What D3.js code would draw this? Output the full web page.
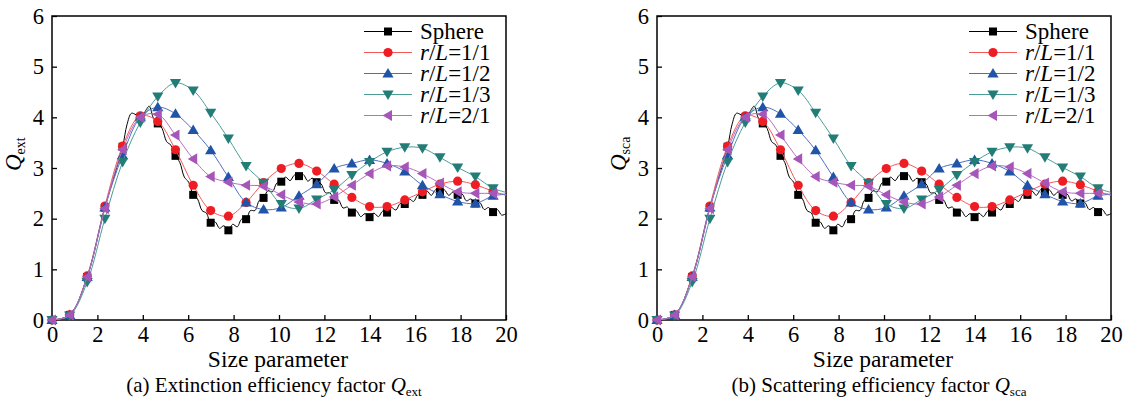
<!DOCTYPE html>
<html>
<head>
  <script src="https://d3js.org/d3.v7.min.js"></script>
  <style>
    body { margin: 0; background: #fff; }
    svg text { font-family: "Liberation Serif", "DejaVu Serif", serif; }
  </style>
</head>
<body>
<div id="chart"></div>
<script>
// size parameter where the symbols sit (last value is the line end at 20)
const sizeParam = [0, 0.78, 1.55, 2.33, 3.11, 3.89, 4.66, 5.44, 6.22, 6.99, 7.77, 8.55, 9.32,
  10.10, 10.88, 11.66, 12.43, 13.21, 13.99, 14.76, 15.54, 16.32, 17.09, 17.87, 18.65, 19.43, 20];

// Q_ext
const extSphere = [0, 0.1, 0.85, 2.22, 3.42, 4.0, 3.88, 3.24, 2.47, 1.92, 1.77, 1.99, 2.41,
  2.73, 2.84, 2.72, 2.37, 2.12, 2.03, 2.12, 2.29, 2.47, 2.53, 2.47, 2.30, 2.13, 2.10];
const extR11 = [0, 0.1, 0.87, 2.25, 3.43, 4.03, 3.92, 3.36, 2.66, 2.16, 2.05, 2.32, 2.71,
  2.99, 3.09, 2.94, 2.68, 2.42, 2.24, 2.24, 2.37, 2.53, 2.68, 2.74, 2.67, 2.54, 2.46];
const extR12 = [0, 0.1, 0.85, 2.22, 3.25, 4.0, 4.2, 4.07, 3.75, 3.35, 2.82, 2.32, 2.18,
  2.22, 2.45, 2.68, 2.99, 3.09, 3.16, 3.09, 2.93, 2.66, 2.48, 2.34, 2.30, 2.45, 2.48];
const extR13 = [0, 0.09, 0.75, 2.0, 3.12, 3.9, 4.41, 4.68, 4.53, 4.09, 3.58, 3.04, 2.71,
  2.29, 2.2, 2.38, 2.57, 2.86, 3.12, 3.32, 3.41, 3.39, 3.21, 3.01, 2.83, 2.60, 2.52];
const extR21 = [0, 0.1, 0.85, 2.2, 3.36, 4.0, 4.06, 3.65, 3.18, 2.83, 2.72, 2.66, 2.64,
  2.47, 2.33, 2.29, 2.43, 2.66, 2.89, 3.04, 3.02, 2.89, 2.70, 2.53, 2.50, 2.50, 2.48];

// Q_sca
const scaSphere = [0, 0.1, 0.85, 2.22, 3.42, 4.0, 3.88, 3.24, 2.47, 1.92, 1.77, 1.99, 2.41,
  2.73, 2.84, 2.72, 2.37, 2.12, 2.03, 2.12, 2.29, 2.47, 2.53, 2.47, 2.30, 2.13, 2.10];
const scaR11 = [0, 0.1, 0.87, 2.25, 3.43, 4.03, 3.92, 3.36, 2.66, 2.16, 2.05, 2.32, 2.71,
  2.99, 3.09, 2.94, 2.68, 2.42, 2.24, 2.24, 2.37, 2.53, 2.68, 2.74, 2.67, 2.54, 2.46];
const scaR12 = [0, 0.1, 0.85, 2.22, 3.25, 4.0, 4.2, 4.07, 3.75, 3.35, 2.82, 2.32, 2.18,
  2.22, 2.45, 2.68, 2.99, 3.09, 3.16, 3.09, 2.93, 2.66, 2.48, 2.34, 2.30, 2.45, 2.48];
const scaR13 = [0, 0.09, 0.75, 2.0, 3.12, 3.9, 4.41, 4.68, 4.53, 4.09, 3.58, 3.04, 2.71,
  2.29, 2.2, 2.38, 2.57, 2.86, 3.12, 3.32, 3.41, 3.39, 3.21, 3.01, 2.83, 2.60, 2.52];
const scaR21 = [0, 0.1, 0.85, 2.2, 3.36, 4.0, 4.06, 3.65, 3.18, 2.83, 2.72, 2.66, 2.64,
  2.47, 2.33, 2.29, 2.43, 2.66, 2.89, 3.04, 3.02, 2.89, 2.70, 2.53, 2.50, 2.50, 2.48];

// the sphere curve is wavy between its symbols
const sphereLineX = [0, 0.78, 1.55, 2.33, 3.11,
  3.30, 3.50, 3.70, 3.89, 4.08, 4.28, 4.47, 4.66, 4.85, 5.05, 5.24, 5.44,
  5.63, 5.83, 6.02, 6.22, 6.41, 6.61, 6.80, 6.99, 7.18, 7.38, 7.57, 7.77,
  7.96, 8.16, 8.35, 8.55, 8.74, 8.94, 9.13, 9.32, 9.51, 9.71, 9.90, 10.10,
  10.29, 10.49, 10.68, 10.88, 11.07, 11.27, 11.46, 11.66, 11.85, 12.05, 12.24, 12.43,
  12.62, 12.82, 13.01, 13.21, 13.40, 13.60, 13.79, 13.99, 14.18, 14.38, 14.57, 14.76,
  14.95, 15.15, 15.34, 15.54, 15.73, 15.93, 16.12, 16.32, 16.51, 16.71, 16.90, 17.09,
  17.28, 17.48, 17.67, 17.87, 18.06, 18.26, 18.45, 18.65, 18.84, 19.04, 19.23, 19.43,
  19.62, 19.81, 20];
const sphereLineExt = [0, 0.1, 0.85, 2.22, 3.42,
  3.85, 4.08, 4.05, 4.0, 4.10, 4.22, 3.98, 3.88, 3.78, 3.52, 3.45, 3.24,
  3.11, 2.82, 2.72, 2.47, 2.39, 2.16, 2.11, 1.92, 1.94, 1.81, 1.86, 1.77,
  1.89, 1.84, 1.99, 1.99, 2.16, 2.16, 2.36, 2.41, 2.55, 2.53, 2.70, 2.73,
  2.82, 2.75, 2.86, 2.84, 2.87, 2.74, 2.80, 2.72, 2.69, 2.51, 2.51, 2.37,
  2.37, 2.21, 2.23, 2.12, 2.16, 2.04, 2.10, 2.03, 2.11, 2.04, 2.15, 2.12,
  2.22, 2.17, 2.30, 2.29, 2.39, 2.34, 2.47, 2.47, 2.55, 2.46, 2.57, 2.53,
  2.57, 2.46, 2.53, 2.47, 2.49, 2.35, 2.39, 2.30, 2.32, 2.18, 2.22, 2.13,
  2.18, 2.07, 2.10];
const sphereLineSca = [0, 0.1, 0.85, 2.22, 3.42,
  3.85, 4.08, 4.05, 4.0, 4.10, 4.22, 3.98, 3.88, 3.78, 3.52, 3.45, 3.24,
  3.11, 2.82, 2.72, 2.47, 2.39, 2.16, 2.11, 1.92, 1.94, 1.81, 1.86, 1.77,
  1.89, 1.84, 1.99, 1.99, 2.16, 2.16, 2.36, 2.41, 2.55, 2.53, 2.70, 2.73,
  2.82, 2.75, 2.86, 2.84, 2.87, 2.74, 2.80, 2.72, 2.69, 2.51, 2.51, 2.37,
  2.37, 2.21, 2.23, 2.12, 2.16, 2.04, 2.10, 2.03, 2.11, 2.04, 2.15, 2.12,
  2.22, 2.17, 2.30, 2.29, 2.39, 2.34, 2.47, 2.47, 2.55, 2.46, 2.57, 2.53,
  2.57, 2.46, 2.53, 2.47, 2.49, 2.35, 2.39, 2.30, 2.32, 2.18, 2.22, 2.13,
  2.18, 2.07, 2.10];

const xTicks = [0, 2, 4, 6, 8, 10, 12, 14, 16, 18, 20];
const yTicks = [0, 1, 2, 3, 4, 5, 6];

const seriesNames = ["Sphere", "r/L=1/1", "r/L=1/2", "r/L=1/3", "r/L=2/1"];
const lineColors = ["#000000", "#f25a5a", "#4d6fc2", "#4c9c96", "#b56fc4"];
const markColors = ["#000000", "#ee1d23", "#2054a6", "#237d77", "#a655b8"];
const markShapes = ["square", "circle", "up", "down", "left"];

const panels = [
  { left: 52, right: 506, sub: "ext", caption: "(a) Extinction efficiency factor ",
    values: [extSphere, extR11, extR12, extR13, extR21], sphereLine: sphereLineExt },
  { left: 657, right: 1111, sub: "sca", caption: "(b) Scattering efficiency factor ",
    values: [scaSphere, scaR11, scaR12, scaR13, scaR21], sphereLine: sphereLineSca }
];

const plotTop = 16, plotBottom = 320;
const serif = "'Liberation Serif', 'DejaVu Serif', serif";
const fs = 22.5;

const svg = d3.select("#chart").append("svg")
  .attr("width", 1140)
  .attr("height", 404)
  .style("font-family", serif);

function symbolPath(shape) {
  if (shape == "square") return "M-4,-4H4V4H-4Z";
  if (shape == "circle") return "M-4.6,0A4.6,4.6 0 1,0 4.6,0A4.6,4.6 0 1,0 -4.6,0Z";
  if (shape == "up") return "M0,-5.5L5.6,4L-5.6,4Z";
  if (shape == "down") return "M0,5.5L5.6,-4L-5.6,-4Z";
  return "M-5.5,0L4,-5.6L4,5.6Z";
}

panels.forEach(function (p) {
  var x = d3.scaleLinear().domain([0, 20]).range([p.left, p.right]);
  var y = d3.scaleLinear().domain([0, 6]).range([plotBottom, plotTop]);
  var g = svg.append("g");

  // axes with inward ticks
  var xAxis = g.append("g")
    .attr("transform", "translate(0," + plotBottom + ")")
    .call(d3.axisBottom(x).tickValues(xTicks).tickFormat(d3.format("d"))
      .tickSizeInner(-5).tickSizeOuter(0).tickPadding(6));
  var yAxis = g.append("g")
    .attr("transform", "translate(" + p.left + ",0)")
    .call(d3.axisLeft(y).tickValues(yTicks).tickFormat(d3.format("d"))
      .tickSizeInner(-5).tickSizeOuter(0).tickPadding(8));
  [xAxis, yAxis].forEach(function (a) {
    a.attr("font-family", null).attr("font-size", null);
    a.select(".domain").remove();
    a.selectAll("line").attr("stroke", "#000").attr("stroke-width", 1.3);
    a.selectAll("text")
      .style("font-family", serif)
      .style("font-size", fs + "px")
      .attr("fill", "#000");
  });

  // frame
  g.append("rect")
    .attr("x", p.left).attr("y", plotTop)
    .attr("width", p.right - p.left).attr("height", plotBottom - plotTop)
    .attr("fill", "none").attr("stroke", "#000").attr("stroke-width", 1.5);

  var line = d3.line()
    .x(d => x(d[0]))
    .y(d => y(d[1]))
    .curve(d3.curveCatmullRom);

  p.values.forEach(function (vals, s) {
    var pts = s == 0 ? d3.zip(sphereLineX, p.sphereLine) : d3.zip(sizeParam, vals);
    g.append("path")
      .attr("d", line(pts))
      .attr("fill", "none")
      .attr("stroke", lineColors[s])
      .attr("stroke-width", 1);

    var marks = d3.zip(sizeParam, vals).filter(d => d[0] < 20);
    g.append("g").selectAll("path")
      .data(marks)
      .join("path")
      .attr("transform", d => "translate(" + x(d[0]) + "," + y(d[1]) + ")")
      .attr("d", symbolPath(markShapes[s]))
      .attr("fill", markColors[s]);
  });

  // legend
  var lg = g.append("g");
  seriesNames.forEach(function (name, s) {
    var ly = 31.5 + s * 21;
    lg.append("line")
      .attr("x1", p.right - 142).attr("x2", p.right - 94)
      .attr("y1", ly).attr("y2", ly)
      .attr("stroke", lineColors[s]).attr("stroke-width", 1);
    lg.append("path")
      .attr("transform", "translate(" + (p.right - 118) + "," + ly + ")")
      .attr("d", symbolPath(markShapes[s]))
      .attr("fill", markColors[s]);
    var t = lg.append("text")
      .attr("x", p.right - 86).attr("y", ly + 7.5)
      .style("font-size", "23px");
    if (s == 0) {
      t.text(name);
    } else {
      t.append("tspan").style("font-style", "italic").text("r");
      t.append("tspan").text("/");
      t.append("tspan").style("font-style", "italic").text("L");
      t.append("tspan").text(name.slice(3));
    }
  });

  // y label
  var yl = g.append("text")
    .attr("transform", "translate(" + (p.left - 31) + ",171) rotate(-90)")
    .style("font-size", "23px");
  yl.append("tspan").style("font-style", "italic").text("Q");
  yl.append("tspan").style("font-size", "14px").attr("dy", 4).text(p.sub);

  var cx = (p.left + p.right) / 2;
  g.append("text")
    .attr("x", cx - 1).attr("y", 367)
    .attr("text-anchor", "middle")
    .style("font-size", "23.5px")
    .text("Size parameter");

  var cap = g.append("text")
    .attr("x", cx - 5).attr("y", 392)
    .attr("text-anchor", "middle")
    .style("font-size", "21px");
  cap.append("tspan").text(p.caption);
  cap.append("tspan").style("font-style", "italic").text("Q");
  cap.append("tspan").style("font-size", "13px").attr("dy", 4).text(p.sub);
});
</script>
</body>
</html>
